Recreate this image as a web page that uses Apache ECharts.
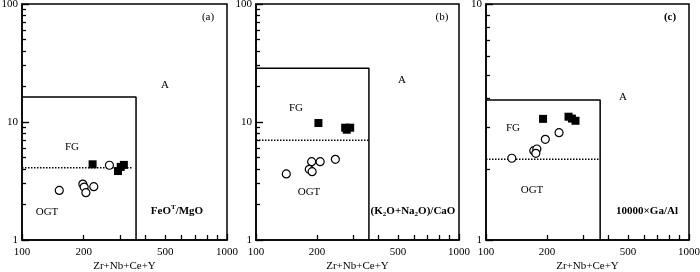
<!DOCTYPE html>
<html><head><meta charset="utf-8">
<script src="https://cdn.jsdelivr.net/npm/echarts@6/dist/echarts.min.js"></script>
<style>html,body{margin:0;padding:0;background:#fff}#c{width:700px;height:272px}</style>
</head><body><div id="c"></div>
<script>
// ---- data ----
const xLabelValues = [100, 200, 500, 1000];

const aSquareX = [221, 294, 303, 314];
const aSquareY = [4.38, 3.84, 4.16, 4.33];
const aCircleX = [152, 198, 201, 205, 224, 267];
const aCircleY = [2.63, 2.98, 2.81, 2.52, 2.83, 4.30];
const aFGtop = 16.3, aFGright = 360, aDotY = 4.1, aDotEnd = 345;

const bSquareX = [203, 275, 291, 280];
const bSquareY = [9.8, 8.95, 8.95, 8.6];
const bCircleX = [141, 183, 189, 188, 207, 246];
const bCircleY = [3.63, 3.97, 3.79, 4.61, 4.61, 4.83];
const bFGtop = 28.5, bFGright = 360, bDotY = 7.0, bDotEnd = 360;

const cSquareX = [191, 255, 265, 276];
const cSquareY = [3.26, 3.33, 3.27, 3.20];
const cCircleX = [134, 172, 178, 176, 196, 229];
const cCircleY = [2.22, 2.39, 2.43, 2.33, 2.67, 2.85];
const cFGtop = 3.92, cFGright = 365, cDotY = 2.2, cDotEnd = 365;

// ---- chart ----
const FONT = "'Liberation Serif','Times New Roman',serif";
const zip = (xs, ys) => xs.map((x, i) => [x, ys[i]]);
const grids = [
  {left: 22, top: 4, width: 205, height: 236},
  {left: 256, top: 4, width: 203, height: 236},
  {left: 486, top: 4, width: 203, height: 236}
];
const panels = [
  {sx: aSquareX, sy: aSquareY, cx: aCircleX, cy: aCircleY, top: aFGtop, right: aFGright, dot: aDotY, dotEnd: aDotEnd, ymax: 100},
  {sx: bSquareX, sy: bSquareY, cx: bCircleX, cy: bCircleY, top: bFGtop, right: bFGright, dot: bDotY, dotEnd: bDotEnd, ymax: 100},
  {sx: cSquareX, sy: cSquareY, cx: cCircleX, cy: cCircleY, top: cFGtop, right: cFGright, dot: cDotY, dotEnd: cDotEnd, ymax: 10}
];
const black = '#000';
const xAxes = [], yAxes = [], series = [];
const fmt = v => String(Math.round(v));
panels.forEach((p, i) => {
  // main x axis: line, ticks, minor ticks, name
  xAxes.push({
    type: 'log', logBase: 10, min: 100, max: 1000, gridIndex: i, position: 'bottom',
    axisLine: {show: true, lineStyle: {color: black, width: 1.5}},
    axisTick: {show: true, inside: true, length: 6, lineStyle: {color: black, width: 1.3}},
    minorTick: {show: true, splitNumber: 9, length: 5, lineStyle: {color: black, width: 1.3}},
    axisLabel: {show: false},
    splitLine: {show: false},
    minorSplitLine: {show: false},
    name: 'Zr+Nb+Ce+Y', nameLocation: 'middle', nameGap: 21,
    nameTextStyle: {color: black, fontFamily: FONT, fontSize: 11}
  });
  // overlay x axis for the 100/200/500/1000 labels
  xAxes.push({
    type: 'log', logBase: 10, min: 100, max: 1000, gridIndex: i, position: 'bottom', offset: 0,
    axisLine: {show: false}, axisTick: {show: false}, minorTick: {show: false},
    axisLabel: {customValues: xLabelValues, formatter: fmt, color: black, fontFamily: FONT, fontSize: 11, margin: 7},
    splitLine: {show: false}
  });
  yAxes.push({
    type: 'log', logBase: 10, min: 1, max: p.ymax, gridIndex: i, position: 'left',
    axisLine: {show: true, lineStyle: {color: black, width: 1.5}},
    axisTick: {show: true, inside: true, length: 7, lineStyle: {color: black, width: 1.4}},
    minorTick: {show: true, splitNumber: 9, length: 4, lineStyle: {color: black, width: 1.3}},
    axisLabel: {formatter: fmt, color: black, fontFamily: FONT, fontSize: 11, margin: 4},
    splitLine: {show: false},
    minorSplitLine: {show: false}
  });
  const xi = 2 * i;
  // FG/OGT field boundary
  series.push({
    type: 'line', xAxisIndex: xi, yAxisIndex: i, symbol: 'none', silent: true,
    data: [[100, p.top], [p.right, p.top], [p.right, 1]],
    lineStyle: {color: black, width: 1.5}, z: 2
  });
  // FG / OGT divide
  series.push({
    type: 'line', xAxisIndex: xi, yAxisIndex: i, symbol: 'none', silent: true,
    data: [[100, p.dot], [p.dotEnd, p.dot]],
    lineStyle: {color: black, width: 1.5, type: [1.5, 1.5]}, z: 2
  });
  series.push({
    type: 'scatter', xAxisIndex: xi, yAxisIndex: i, symbol: 'circle', symbolSize: 8,
    data: zip(p.cx, p.cy),
    itemStyle: {color: '#fff', borderColor: black, borderWidth: 1.2, opacity: 1}, z: 3
  });
  series.push({
    type: 'scatter', xAxisIndex: xi, yAxisIndex: i, symbol: 'rect', symbolSize: 8,
    data: zip(p.sx, p.sy),
    itemStyle: {color: black, opacity: 1}, z: 4
  });
});

function txt(x, y, s, bold, extra) {
  const st = Object.assign({
    text: s, align: 'center', verticalAlign: 'middle',
    font: (bold ? 'bold ' : '') + '11px ' + FONT, fill: black
  }, extra || {});
  return {type: 'text', x: x, y: y, z: 10, style: st};
}
const richB = {
  b: {font: 'bold 11px ' + FONT, fill: black, lineHeight: 14},
  sup: {font: 'bold 7px ' + FONT, fill: black, verticalAlign: 'top', lineHeight: 14, padding: [0, 0, 6, 0]},
  sub: {font: 'bold 7px ' + FONT, fill: black, verticalAlign: 'bottom', lineHeight: 14, padding: [5, 0, 0, 0]}
};
const graphics = [
  txt(208, 17, '(a)', false), txt(165, 85, 'A', false), txt(72, 147, 'FG', false), txt(47, 212, 'OGT', false),
  txt(177, 211, '{b|FeO}{sup|T}{b|/MgO}', true, {rich: richB}),
  txt(442, 17, '(b)', false), txt(402, 80, 'A', false), txt(296, 108, 'FG', false), txt(309, 192, 'OGT', false),
  txt(413, 211, '{b|(K}{sub|2}{b|O+Na}{sub|2}{b|O)/CaO}', true, {rich: richB}),
  txt(670, 17, '(c)', true), txt(623, 97, 'A', false), txt(513, 128, 'FG', false), txt(532, 190, 'OGT', false),
  txt(647, 211, '10000×Ga/Al', true)
];

const chart = echarts.init(document.getElementById('c'), null, {renderer: 'canvas'});
chart.setOption({
  animation: false,
  backgroundColor: '#fff',
  grid: grids.map(g => Object.assign({show: true, borderColor: black, borderWidth: 1.5, backgroundColor: 'transparent', containLabel: false, outerBoundsMode: 'none'}, g)),
  xAxis: xAxes,
  yAxis: yAxes,
  series: series,
  graphic: graphics
});
</script></body></html>
